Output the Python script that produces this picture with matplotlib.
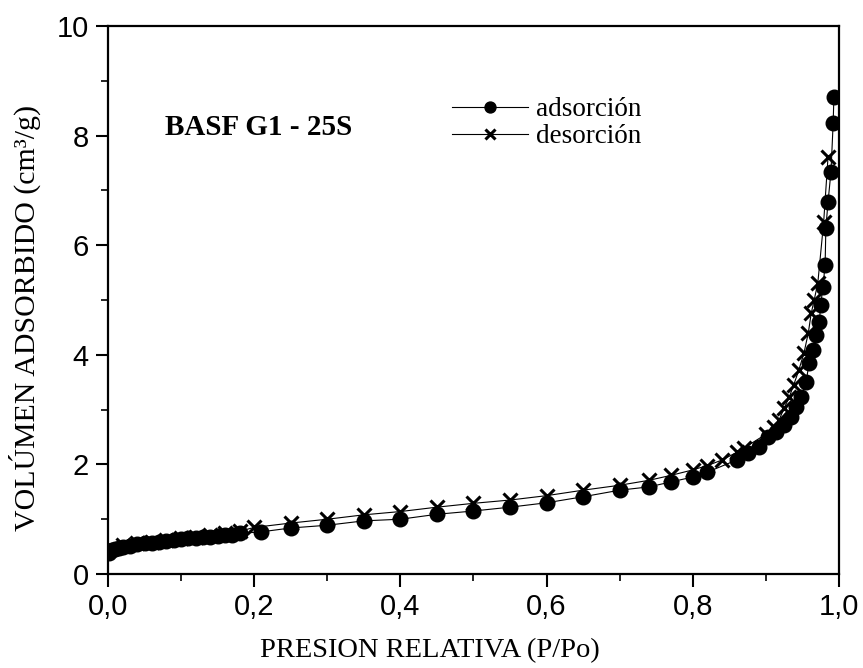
import numpy as np
import matplotlib
matplotlib.use("Agg")
import matplotlib.pyplot as plt
from matplotlib.ticker import MultipleLocator, FuncFormatter

# isoterma de adsorcion (P/Po, volumen cm3/g)
p_ads = [0.002, 0.006, 0.01, 0.015, 0.02, 0.03, 0.04, 0.05, 0.06, 0.07, 0.08,
         0.09, 0.10, 0.11, 0.12, 0.13, 0.14, 0.15, 0.16, 0.17, 0.18,
         0.21, 0.25, 0.30, 0.35, 0.40, 0.45, 0.50, 0.55, 0.60, 0.65, 0.70,
         0.74, 0.77, 0.80, 0.82, 0.86, 0.875, 0.89, 0.903, 0.914, 0.925,
         0.934, 0.941, 0.948, 0.955, 0.959, 0.964, 0.968, 0.973, 0.975,
         0.978, 0.981, 0.982, 0.985, 0.989, 0.992, 0.993]
v_ads = [0.38, 0.43, 0.46, 0.48, 0.50, 0.52, 0.54, 0.56, 0.57, 0.59, 0.60,
         0.62, 0.63, 0.65, 0.66, 0.67, 0.68, 0.70, 0.71, 0.72, 0.74,
         0.77, 0.84, 0.89, 0.97, 1.00, 1.09, 1.15, 1.22, 1.30, 1.41, 1.53,
         1.59, 1.68, 1.77, 1.86, 2.08, 2.21, 2.32, 2.50, 2.59, 2.72,
         2.86, 3.05, 3.23, 3.50, 3.85, 4.09, 4.36, 4.60, 4.91,
         5.24, 5.64, 6.31, 6.79, 7.34, 8.23, 8.70]

# isoterma de desorcion
p_des = [0.005, 0.02, 0.04, 0.06, 0.08, 0.10, 0.12, 0.14, 0.16, 0.18, 0.20,
         0.25, 0.30, 0.35, 0.40, 0.45, 0.50, 0.55, 0.60, 0.65, 0.70, 0.74,
         0.77, 0.80, 0.82, 0.84, 0.86, 0.87, 0.90, 0.911, 0.918, 0.925,
         0.932, 0.938, 0.945, 0.952, 0.958, 0.962, 0.966, 0.971, 0.979, 0.985]
v_des = [0.47, 0.53, 0.56, 0.59, 0.62, 0.65, 0.68, 0.72, 0.75, 0.78, 0.85,
         0.93, 1.00, 1.08, 1.14, 1.22, 1.29, 1.35, 1.43, 1.53, 1.62, 1.71,
         1.80, 1.90, 1.98, 2.08, 2.22, 2.30, 2.55, 2.68, 2.81, 3.03,
         3.23, 3.45, 3.72, 4.03, 4.40, 4.76, 5.00, 5.31, 6.42, 7.61]

fig = plt.figure(figsize=(8.63, 6.68), dpi=100)
ax = fig.add_axes([0.1251, 0.1407, 0.8471, 0.8203])

ax.plot(p_ads, v_ads, '-', color='black', lw=0.8, marker='o', ms=10.5,
        mfc='black', mec='black', label='adsorción', zorder=3)
ax.plot(p_des, v_des, '-', color='black', lw=0.8, marker='x', ms=10,
        mew=2.2, label='desorción', zorder=2)

ax.set_xlim(0.0, 1.0)
ax.set_ylim(0, 10)
ax.xaxis.set_major_locator(MultipleLocator(0.2))
ax.xaxis.set_minor_locator(MultipleLocator(0.1))
ax.yaxis.set_major_locator(MultipleLocator(2))
ax.yaxis.set_minor_locator(MultipleLocator(1))
ax.xaxis.set_major_formatter(FuncFormatter(lambda v, pos: f"{v:.1f}".replace('.', ',')))
ax.yaxis.set_major_formatter(FuncFormatter(lambda v, pos: f"{v:.0f}"))

ax.tick_params(which='major', direction='out', length=9, width=1.5,
               labelsize=21, top=False, right=False, pad=5)
ax.tick_params(which='minor', direction='out', length=5, width=1.2,
               top=False, right=False)
for lab in ax.get_xticklabels() + ax.get_yticklabels():
    lab.set_family('Liberation Sans')
for s in ax.spines.values():
    s.set_linewidth(1.6)

ax.set_xlabel('PRESION RELATIVA (P/Po)', family='Liberation Serif',
              fontsize=20.5)
ax.xaxis.set_label_coords(0.44, -0.117)
ax.set_ylabel('VOLÚMEN ADSORBIDO (cm³/g)', family='Liberation Serif',
              fontsize=21.5)
ax.yaxis.set_label_coords(-0.092, 0.467)

ax.text(0.078, 8.14, 'BASF G1 - 25S', family='Liberation Serif',
        fontweight='bold', fontsize=21, va='center', ha='left')

leg = ax.legend(loc='upper left', bbox_to_anchor=(0.437, 0.915), frameon=False,
                prop={'family': 'Liberation Serif', 'size': 19.5},
                handlelength=2.8, handletextpad=0.3, labelspacing=0.08,
                markerscale=0.75)

fig.savefig('out.png', dpi=100)
